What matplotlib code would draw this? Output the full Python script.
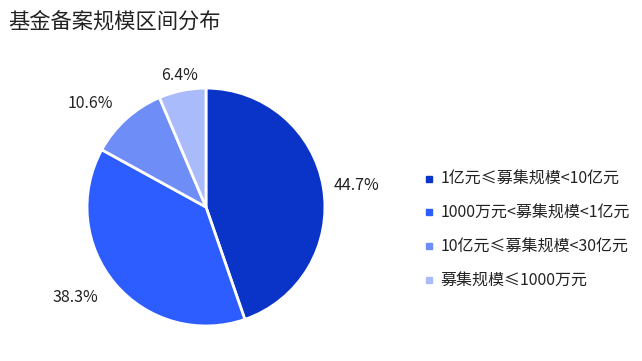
import numpy as np
import matplotlib
matplotlib.use("Agg")
import matplotlib.pyplot as plt
from matplotlib.lines import Line2D

plt.rcParams['font.family'] = ['Noto Sans CJK SC', 'DejaVu Sans']

# data
labels = ["1亿元≤募集规模<10亿元", "1000万元<募集规模<1亿元",
          "10亿元≤募集规模<30亿元", "募集规模≤1000万元"]
values = [44.7, 38.3, 10.6, 6.4]
colors = ["#0a33c8", "#2d5cff", "#6f8df7", "#a9bbfa"]
label_dist = [1.09, 1.18, 1.17, 1.13]
label_ha = ["left", "right", "right", "center"]

fig = plt.figure(figsize=(6.42, 3.61), dpi=100)
ax = fig.add_axes([0.1355, 0.097, 0.3707, 0.659])

wedges, _ = ax.pie(values, colors=colors, startangle=90, counterclock=False,
                   radius=1, wedgeprops=dict(edgecolor="white", linewidth=2))
ax.set_xlim(-1, 1)
ax.set_ylim(-1, 1)
ax.set_aspect("equal")

# percent labels outside the slices
for w, v, d, ha in zip(wedges, values, label_dist, label_ha):
    ang = np.deg2rad((w.theta1 + w.theta2) / 2)
    ax.text(d * np.cos(ang), d * np.sin(ang), f"{v}%", ha=ha, va="center",
            fontsize=11.5, color="#222222")

fig.text(0.012, 0.94, "基金备案规模区间分布", fontsize=15.3, color="#222222",
         ha="left", va="center")

handles = [Line2D([], [], marker="s", linestyle="", markersize=5,
                  markerfacecolor=c, markeredgecolor=c) for c in colors]
fig.legend(handles, labels, loc="center left", bbox_to_anchor=(0.646, 0.362),
           frameon=False, fontsize=11.5, labelspacing=1.05, handletextpad=0.3,
           handlelength=0.8, labelcolor="#222222", borderpad=0)

fig.savefig("out.png", dpi=100)
